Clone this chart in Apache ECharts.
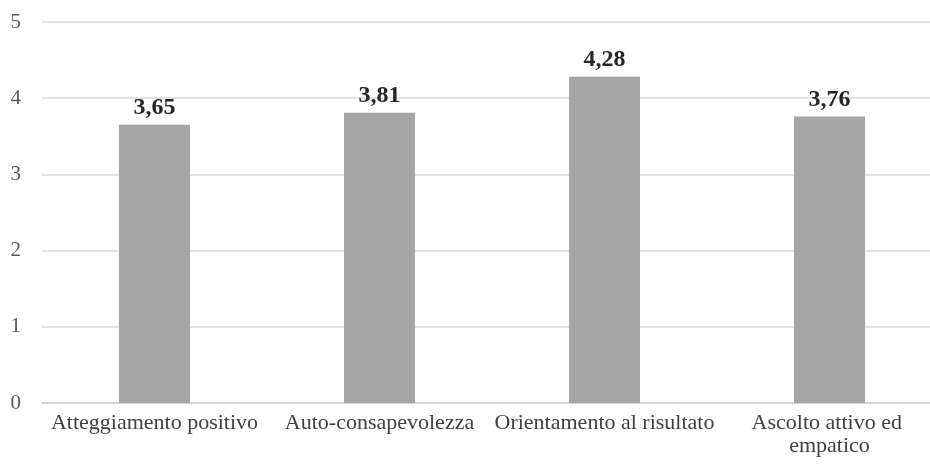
<!DOCTYPE html>
<html>
<head>
<meta charset="utf-8">
<script src="https://cdn.jsdelivr.net/npm/echarts@6/dist/echarts.min.js"></script>
<style>html,body{margin:0;padding:0;background:#fff;}#c{width:930px;height:465px;}</style>
</head>
<body>
<div id="c"></div>
<script>
const categories = ["Atteggiamento positivo", "Auto-consapevolezza", "Orientamento al risultato", "Ascolto attivo ed empatico"];
const values = [3.65, 3.81, 4.28, 3.76];
const yTicks = [0, 1, 2, 3, 4, 5];

const chart = echarts.init(document.getElementById('c'), null, {renderer: 'canvas'});
chart.setOption({
  animation: false,
  backgroundColor: '#ffffff',
  grid: {left: 42, top: 22, width: 900, bottom: 62, containLabel: false, outerBoundsMode: 'none'},
  xAxis: {
    type: 'category',
    data: categories,
    axisTick: {show: false},
    axisLine: {show: true, lineStyle: {color: '#d0d0d0', width: 1.5}},
    axisLabel: {
      interval: 0, margin: 9, color: '#404040',
      fontFamily: 'Liberation Serif', fontSize: 22, lineHeight: 23,
      width: 222, overflow: 'break'
    }
  },
  yAxis: {
    type: 'value',
    min: yTicks[0], max: yTicks[yTicks.length - 1], interval: 1,
    axisLine: {show: false},
    axisTick: {show: false},
    splitLine: {lineStyle: {color: '#d9d9d9', width: 1.5}},
    axisLabel: {
      margin: 21, color: '#595959',
      fontFamily: 'Liberation Serif', fontSize: 21,
      formatter: v => String(v)
    }
  },
  series: [{
    type: 'bar',
    data: values,
    barWidth: 71,
    itemStyle: {color: '#a5a5a5'},
    label: {
      show: true, position: 'top', distance: 5,
      color: '#262626', fontFamily: 'Liberation Serif', fontSize: 24, fontWeight: 'bold',
      formatter: p => p.value.toFixed(2).replace('.', ',')
    }
  }]
});
</script>
</body>
</html>
